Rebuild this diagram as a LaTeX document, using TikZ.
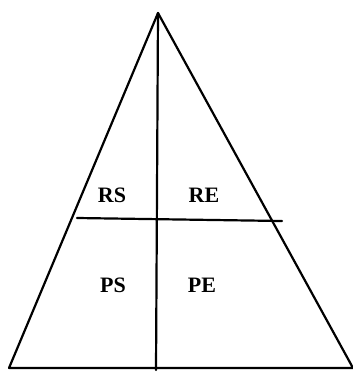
\documentclass[tikz,border=0pt]{standalone}
\usepackage{fontspec}
\setmainfont{Liberation Serif}
\usetikzlibrary{positioning}

\begin{document}
\begin{tikzpicture}[
            x=1pt, y=-1pt,
            edge/.style={line width=2.2pt, line cap=round, line join=round},
            quad/.style={font=\bfseries\fontsize{22}{26}\selectfont, inner sep=0pt},
        ]
            \useasboundingbox (0,0) rectangle (353,372);
            % corners of the triangle
            \coordinate (apex) at (158,13);
            \coordinate (baseleft) at (9,368);
            \coordinate (baseright) at (353,368);
            \coordinate (basemid) at (156,370);
            \coordinate (cutleft) at (77,218);
            \coordinate (cutright) at (282,221);

            \draw[edge] (apex) -- (baseleft) -- (baseright) -- cycle;
            \draw[edge] (apex) -- (basemid);
            \draw[edge] (cutleft) -- (cutright);

            \node[quad] (rs) at (112,195) {RS};
            \node[quad] (re) at (204,195) {RE};
            \node[quad] (ps) at (113,285) {PS};
            \node[quad] (pe) at (202,285) {PE};
        \end{tikzpicture}
\end{document}
